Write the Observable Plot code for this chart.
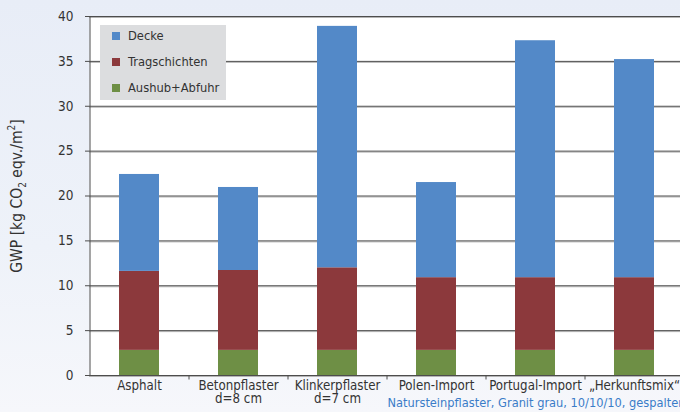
<!DOCTYPE html>
<html><head><meta charset="utf-8">
<script src="https://cdn.jsdelivr.net/npm/d3@7"></script>
<script src="https://cdn.jsdelivr.net/npm/@observablehq/plot@0.6"></script>
<style>
html,body{margin:0;padding:0;}
body{width:680px;height:412px;overflow:hidden;background:linear-gradient(#e8edf7,#eef2f9 60%,#f6f7fb);font-family:"DejaVu Sans Condensed","DejaVu Sans",sans-serif;position:relative;}
#chart{position:absolute;left:0;top:0;}
#legend{position:absolute;left:100px;top:25px;width:126px;height:75px;background:#dcdddf;font-size:12.8px;color:#333;}
#legend .it{position:absolute;left:12px;height:16px;line-height:16px;}
#legend .sw{display:inline-block;width:8px;height:8px;margin-right:8px;vertical-align:0px;}
#ylab{position:absolute;left:17px;top:196px;transform:translate(-50%,-50%) rotate(-90deg);white-space:nowrap;font-size:15.5px;color:#333;}
#ylab sub,#ylab sup{font-size:10px;}
</style></head>
<body>
<div id="chart"></div>
<div id="ylab">GWP [kg CO<sub>2</sub> eqv./m<sup>2</sup>]</div>
<div id="legend"></div>
<script>
const categories = ["Asphalt","Betonpflaster","Klinkerpflaster","Polen-Import","Portugal-Import","Herkunftsmix"];
const tickLabels = ["Asphalt","Betonpflaster\nd=8 cm","Klinkerpflaster\nd=7 cm","Polen-Import","Portugal-Import","„Herkunftsmix“"];
const seriesNames = ["Aushub+Abfuhr","Tragschichten","Decke"];
const aushub = [2.8, 2.8, 2.8, 2.8, 2.8, 2.8];
const tragschichten = [8.8, 8.9, 9.2, 8.1, 8.1, 8.1];
const decke = [10.8, 9.25, 26.9, 10.6, 26.4, 24.3];
const yTicks = [0,5,10,15,20,25,30,35,40];
const subtitle = "Natursteinpflaster, Granit grau, 10/10/10, gespalten";
const colors = {"Decke":"#5389c8","Tragschichten":"#8c393c","Aushub+Abfuhr":"#6e8f45"};

const data = [];
categories.forEach((c,i)=>{
  data.push({cat:c, series:"Aushub+Abfuhr", value:aushub[i]});
  data.push({cat:c, series:"Tragschichten", value:tragschichten[i]});
  data.push({cat:c, series:"Decke", value:decke[i]});
});
const labelMap = new Map(categories.map((c,i)=>[c,tickLabels[i]]));

const chart = Plot.plot({
  width: 680, height: 412,
  marginLeft: 89, marginRight: -3, marginTop: 16, marginBottom: 37,
  style: {background:"transparent", fontFamily:"'DejaVu Sans Condensed','DejaVu Sans',sans-serif", fontSize:"13px", color:"#333"},
  x: {domain: categories, paddingInner: 0.6, paddingOuter: 0.3, axis: null},
  y: {domain: [0,40], axis: null},
  color: {domain: Object.keys(colors), range: Object.values(colors)},
  marks: [
    Plot.frame({fill:"white", stroke:null}),
    Plot.gridY(yTicks, {stroke:"#b5b5b5", strokeOpacity:1, dy:1}),
    Plot.gridY(yTicks, {stroke:"#4d4d4d", strokeOpacity:1}),
    Plot.barY(data, Plot.stackY({x:"cat", y:"value", fill:"series", order: seriesNames})),
    Plot.axisY({ticks: yTicks, tickSize: 4, tickPadding: 12, label: null, stroke:"#4d4d4d", fontSize: 13.5}),
    Plot.ruleX([0], {x: ()=>categories[0], dx: -49.5, stroke:"#4d4d4d"}),
    Plot.ruleY([0], {stroke:"#4d4d4d"}),
    Plot.ruleX(categories.slice(1), {x: d=>d, dx: -49.5, y1: 0, y2: -0.5, stroke:"#4d4d4d"}),
    Plot.axisX({tickSize: 0, tickPadding: 5, label: null, tickFormat: d=>labelMap.get(d), lineHeight: 1.0, fontSize: 13.2}),
    Plot.text([subtitle], {x: ()=>"Polen-Import", frameAnchor:"bottom", dy: 31, dx: -49, textAnchor:"start", fill:"#3a7cc8", fontSize: 12.7})
  ]
});
document.getElementById("chart").appendChild(chart);

const lg = document.getElementById("legend");
["Decke","Tragschichten","Aushub+Abfuhr"].forEach((n,i)=>{
  const d = document.createElement("div");
  d.className="it"; d.style.top = (3 + i*26) + "px";
  d.innerHTML = `<span class="sw" style="background:${colors[n]}"></span>${n}`;
  lg.appendChild(d);
});
</script>
</body></html>
